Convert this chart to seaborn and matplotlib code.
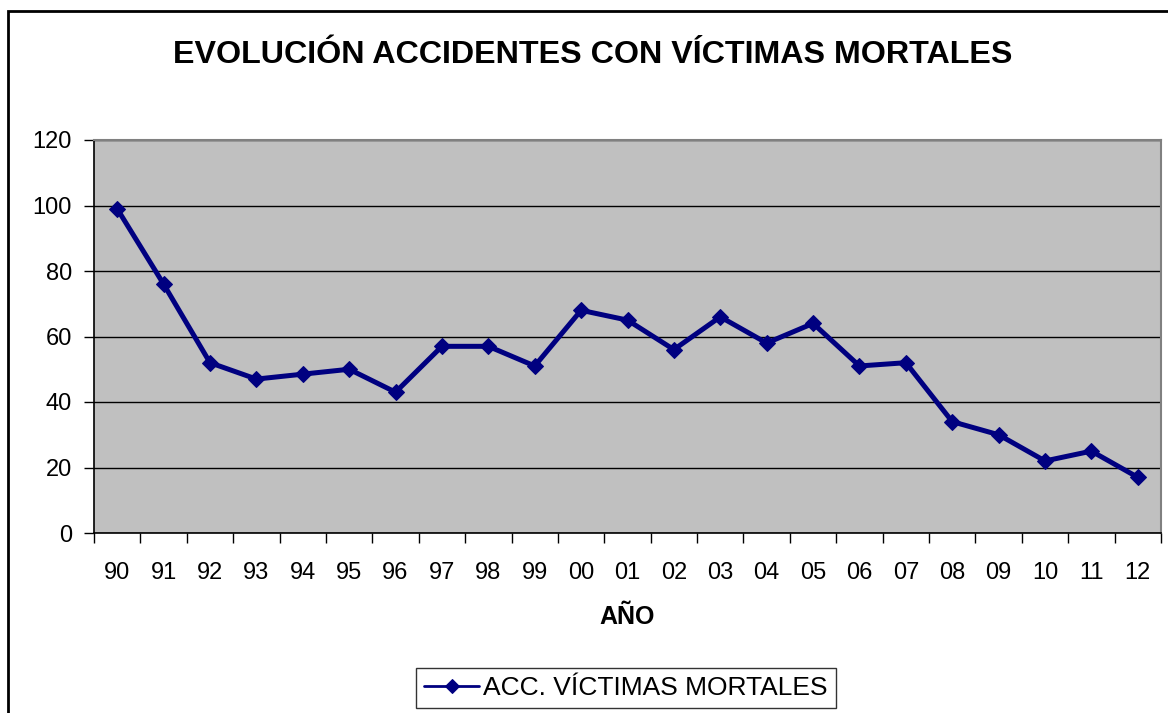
import matplotlib
matplotlib.use("Agg")
import matplotlib.pyplot as plt
import matplotlib.patches as mpatches
import numpy as np
import pandas as pd
import seaborn as sns

sns.set_theme(style="white")
plt.rcParams['font.family'] = ['Liberation Sans', 'DejaVu Sans']
plt.rcParams['text.color'] = 'black'

# data
years = ['90', '91', '92', '93', '94', '95', '96', '97', '98', '99', '00',
         '01', '02', '03', '04', '05', '06', '07', '08', '09', '10', '11', '12']
accidents = [99, 76, 52, 47, 48.5, 50, 43, 57, 57, 51, 68,
             65, 56, 66, 58, 64, 51, 52, 34, 30, 22, 25, 17]

df = pd.DataFrame({'pos': np.arange(len(years)), 'year': years, 'acc': accidents})

fig = plt.figure(figsize=(11.68, 7.13), dpi=100)
ax = fig.add_axes([94 / 1168, 1 - 533 / 713, (1161 - 94) / 1168, (533 - 140) / 713])
ax.set_facecolor('#C0C0C0')

# outer chart border
fig.patches.append(mpatches.Rectangle((8 / 1168, -0.05), 1.1, 1 - 11 / 713 + 0.05,
                                      transform=fig.transFigure, fill=False,
                                      edgecolor='black', linewidth=2))

sns.lineplot(data=df, x='pos', y='acc', ax=ax, color='#000080', linewidth=3.6,
             marker='D', markersize=8.5, markeredgecolor='#000080',
             label='ACC. VÍCTIMAS MORTALES', legend=False)

ax.set_xlim(-0.5, len(years) - 0.5)
ax.set_ylim(0, 120)
ax.set_yticks(range(0, 121, 20))
ax.yaxis.grid(True, color='black', linewidth=1)
ax.set_axisbelow(True)

# ticks between categories, labels at centres
ax.set_xticks(np.arange(len(years) + 1) - 0.5)
ax.set_xticklabels([])
ax.set_xticks(np.arange(len(years)), minor=True)
ax.set_xticklabels(years, minor=True)
ax.tick_params(axis='x', which='major', direction='out', length=7, width=1, color='black', bottom=True)
ax.tick_params(axis='x', which='minor', length=0, labelsize=17, pad=21, colors='black')
ax.tick_params(axis='y', direction='out', length=7, width=1, color='black', left=True,
               labelsize=17, pad=9, labelcolor='black')

for side in ['left', 'bottom']:
    ax.spines[side].set_color('black')
    ax.spines[side].set_linewidth(1.2)
for side in ['top', 'right']:
    ax.spines[side].set_color('#808080')
    ax.spines[side].set_linewidth(1.5)

ax.set_xlabel('AÑO', fontsize=18, fontweight='bold', labelpad=15, color='black')
ax.set_ylabel('')

fig.text(593 / 1168, 1 - 55 / 713, 'EVOLUCIÓN ACCIDENTES CON VÍCTIMAS MORTALES',
         ha='center', va='center', fontsize=23.2, fontweight='bold', color='black')

handles, labels = ax.get_legend_handles_labels()
leg = fig.legend(handles, labels, loc='center', bbox_to_anchor=(626 / 1168, 1 - 688 / 713),
                 fontsize=19, frameon=True, fancybox=False, handlelength=2.1,
                 handletextpad=0.15, borderpad=0.3, borderaxespad=0, labelcolor='black')
leg.get_frame().set_edgecolor('black')
leg.get_frame().set_linewidth(1)
for line in leg.get_lines():
    line.set_linewidth(2)
    line.set_markersize(7.5)

fig.savefig('out.png', dpi=100)
